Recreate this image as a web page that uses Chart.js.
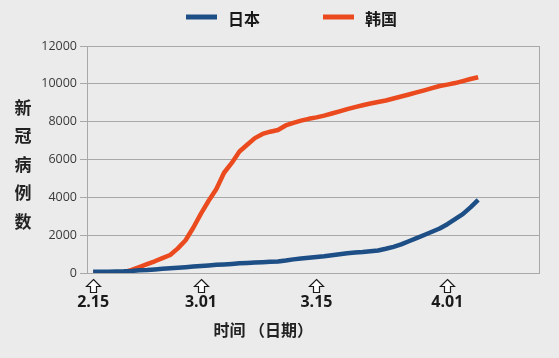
<!DOCTYPE html>
<html><head><meta charset="utf-8">
<script src="https://cdn.jsdelivr.net/npm/chart.js@4/dist/chart.umd.min.js"></script>
<style>
html,body{margin:0;padding:0;background:#ebebeb;}
#wrap{width:559px;height:358px;position:relative;}
canvas{display:block;}
</style>
</head><body>
<div id="wrap"><canvas id="c" width="559" height="358"></canvas></div>
<script>
// ---- data ----
const dates = ['2.15','2.16','2.17','2.18','2.19','2.20','2.21','2.22','2.23','2.24','2.25','2.26','2.27','2.28','2.29',
  '3.01','3.02','3.03','3.04','3.05','3.06','3.07','3.08','3.09','3.10','3.11','3.12','3.13','3.14',
  '3.15','3.16','3.17','3.18','3.19','3.20','3.21','3.22','3.23','3.24','3.25','3.26','3.27','3.28','3.29','3.30','3.31',
  '4.01','4.02','4.03','4.04','4.05'];
const seriesNames = ['日本', '韩国'];
const japan = [60,65,70,80,90,110,140,160,190,220,250,280,310,340,370,
  400,430,455,480,510,530,550,570,590,610,660,720,770,810,
  850,890,940,990,1040,1080,1110,1150,1190,1280,1380,1510,1680,1840,2010,2180,2350,
  2580,2850,3110,3470,3860];
const korea = [28,28,29,31,45,160,313,470,620,790,950,1300,1730,2390,3140,
  3820,4440,5300,5820,6420,6780,7130,7350,7470,7560,7800,7940,8055,8150,
  8225,8320,8430,8545,8665,8770,8865,8960,9040,9120,9225,9330,9435,9545,9655,9770,9885,
  9960,10040,10145,10255,10350];
const xTickLabels = ['2.15', '3.01', '3.15', '4.01'];
const xTickDays = [0, 14, 29, 46];   // where the reference puts its arrows, in day units
const yTicks = [0, 2000, 4000, 6000, 8000, 10000, 12000];
const yTitleChars = ['新', '冠', '病', '例', '数'];
const xTitle = '时间 （日期）';

// ---- styles ----
const BG = '#ebebeb';
const GRID = '#a8a8a8';
const COLORS = ['#1d4e85', '#ea4a1d'];
const CJK = '"Noto Sans CJK SC", "Noto Sans", sans-serif';

const bgPlugin = {
  id: 'bg',
  beforeDraw(chart) {
    const ctx = chart.ctx;
    ctx.save();
    ctx.fillStyle = BG;
    ctx.fillRect(0, 0, chart.width, chart.height);
    ctx.restore();
  }
};

const framePlugin = {
  id: 'frame',
  beforeDatasetsDraw(chart) {
    const a = chart.chartArea, ctx = chart.ctx;
    ctx.save();
    ctx.strokeStyle = GRID;
    ctx.lineWidth = 1;
    ctx.beginPath();
    ctx.moveTo(Math.round(a.right) + 0.5, a.top);
    ctx.lineTo(Math.round(a.right) + 0.5, a.bottom);
    ctx.stroke();
    ctx.restore();
  }
};

function hollowArrow(ctx, cx, top) {
  const hw = 7, sw = 3, headH = 7, shaftH = 6;
  ctx.beginPath();
  ctx.moveTo(cx, top);
  ctx.lineTo(cx + hw, top + headH);
  ctx.lineTo(cx + sw, top + headH);
  ctx.lineTo(cx + sw, top + headH + shaftH);
  ctx.lineTo(cx - sw, top + headH + shaftH);
  ctx.lineTo(cx - sw, top + headH);
  ctx.lineTo(cx - hw, top + headH);
  ctx.closePath();
  ctx.fillStyle = '#ffffff';
  ctx.fill();
  ctx.stroke();
}

const extrasPlugin = {
  id: 'extras',
  afterDraw(chart) {
    const ctx = chart.ctx, a = chart.chartArea;
    const xs = chart.scales.x;
    ctx.save();
    // arrows above the date labels
    ctx.strokeStyle = '#1a1a1a';
    ctx.lineWidth = 1.2;
    ctx.lineJoin = 'miter';
    xTickDays.forEach(d => {
      hollowArrow(ctx, Math.round(xs.getPixelForValue(d)) + 0.5, a.bottom + 6.5);
    });
    ctx.textAlign = 'center';
    ctx.textBaseline = 'middle';
    // x title
    ctx.font = 'bold 16px ' + CJK;
    ctx.fillStyle = '#222';
    ctx.fillText(xTitle, a.left + (a.right - a.left) * 0.39, a.bottom + 57);
    // y title (stacked)
    ctx.font = 'bold 17px ' + CJK;
    const mid = (a.top + a.bottom) / 2 + 5;
    const step = 28.5;
    yTitleChars.forEach((ch, i) => {
      ctx.fillText(ch, 23, mid + (i - (yTitleChars.length - 1) / 2) * step);
    });
    // legend
    const items = chart.data.datasets;
    let x = 186;
    const ly = 17;
    ctx.font = 'bold 16px ' + CJK;
    ctx.textAlign = 'left';
    items.forEach((ds, i) => {
      ctx.strokeStyle = ds.borderColor;
      ctx.lineWidth = 5;
      ctx.beginPath();
      ctx.moveTo(x, ly);
      ctx.lineTo(x + 31, ly);
      ctx.stroke();
      ctx.fillStyle = '#1a1a1a';
      ctx.fillText(ds.label, x + 42, ly + 2);
      x += 42 + ctx.measureText(ds.label).width + 63;
    });
    ctx.restore();
  }
};

new Chart(document.getElementById('c'), {
  type: 'line',
  data: {
    datasets: [
      { label: seriesNames[0], data: japan.map((v, i) => ({ x: i, y: v })), borderColor: COLORS[0], backgroundColor: COLORS[0] },
      { label: seriesNames[1], data: korea.map((v, i) => ({ x: i, y: v })), borderColor: COLORS[1], backgroundColor: COLORS[1] }
    ]
  },
  options: {
    responsive: false,
    animation: false,
    devicePixelRatio: 1,
    layout: { padding: { top: 46, right: 20, bottom: 0, left: 0 } },
    elements: {
      line: { borderWidth: 4.5, tension: 0, borderJoinStyle: 'round', borderCapStyle: 'butt', fill: false },
      point: { radius: 0, hoverRadius: 0 }
    },
    plugins: { legend: { display: false }, tooltip: { enabled: false } },
    scales: {
      x: {
        type: 'linear',
        min: -0.8,
        max: 57.9,
        grid: { display: false, drawTicks: false },
        border: { display: true, color: GRID, width: 1 },
        afterBuildTicks(scale) { scale.ticks = xTickDays.map(v => ({ value: v })); },
        afterFit(scale) { scale.height = 85; },
        ticks: {
          autoSkip: false, maxRotation: 0, padding: 20,
          color: '#1a1a1a',
          font: { family: '"Open Sans", sans-serif', size: 16, weight: 'bold' },
          callback: (v, i) => xTickLabels[i]
        }
      },
      y: {
        min: 0, max: 12000,
        afterBuildTicks(scale) { scale.ticks = yTicks.map(v => ({ value: v })); },
        afterFit(scale) { scale.width = 87; },
        grid: { color: GRID, lineWidth: 1, tickLength: 7, drawTicks: true },
        border: { display: true, color: GRID, width: 1 },
        ticks: {
          padding: 3,
          color: '#3a3a3a',
          font: { family: '"Open Sans", sans-serif', size: 12.5 },
          callback: (v) => String(v)
        }
      }
    }
  },
  plugins: [bgPlugin, framePlugin, extrasPlugin]
});
</script>
</body></html>
